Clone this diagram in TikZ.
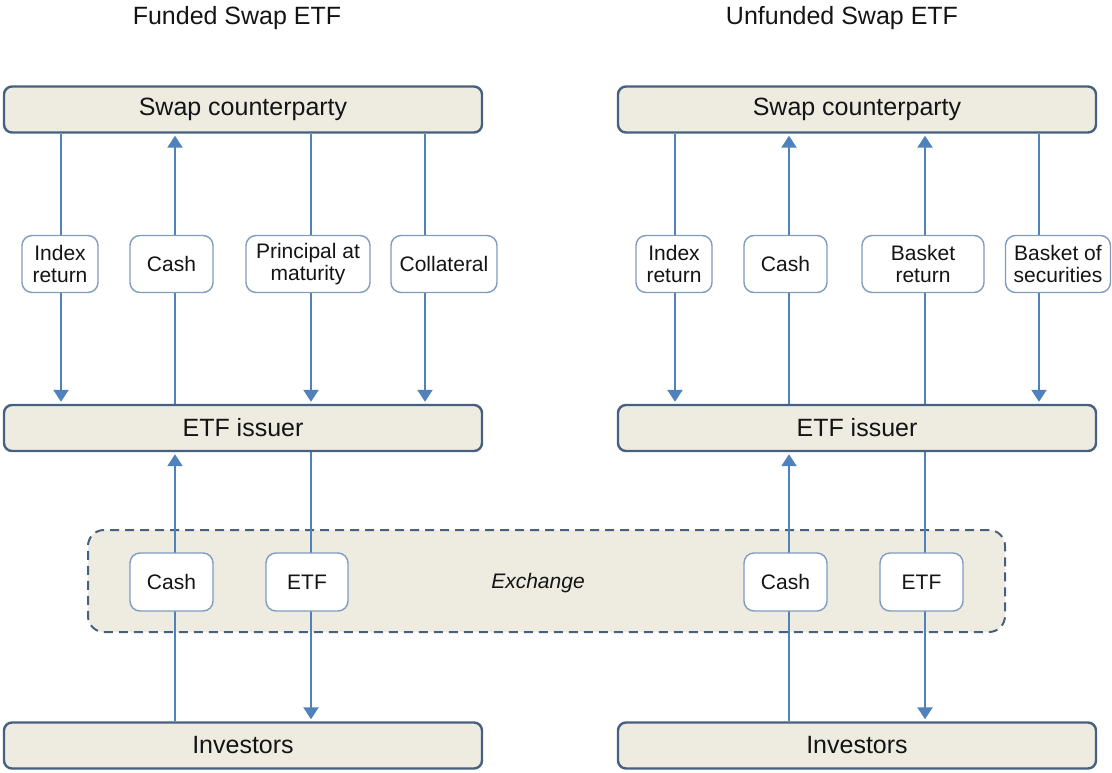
\documentclass[tikz,border=0pt]{standalone}
\usepackage{fontspec}
\setmainfont{Liberation Sans}
\usetikzlibrary{arrows.meta}
\definecolor{boxfill}{HTML}{EEECE1}
\definecolor{boxline}{HTML}{46607F}
\definecolor{arrowblue}{HTML}{4F81BD}
\definecolor{labline}{HTML}{7F9CBF}
\definecolor{txt}{HTML}{141414}
\tikzset{
  mainbox/.style={draw=boxline, line width=2.4pt, fill=boxfill, rounded corners=8pt,
    minimum width=478pt, minimum height=46pt, inner sep=0pt, text=txt,
    font=\fontsize{25}{29}\selectfont},
  labbox/.style={draw=labline, line width=1.4pt, fill=white, rounded corners=10pt,
    minimum height=57pt, inner sep=0pt, align=center, text=txt,
    font=\fontsize{21}{25}\selectfont},
  exbox/.style={draw=boxline, line width=2pt, dash pattern=on 9pt off 6pt, fill=boxfill,
    rounded corners=16pt, minimum width=917pt, minimum height=102pt, inner sep=0pt},
  flow/.style={draw=arrowblue, line width=2.2pt, -{Triangle[width=15pt,length=12pt]}, shorten >=2pt},
  title/.style={text=txt, font=\fontsize{25}{29}\selectfont}
}
\begin{document}
\begin{tikzpicture}[x=1pt,y=-1pt]
\useasboundingbox (0,0) rectangle (1112,772);
% titles
\node[title] (t1) at (237,18) {Funded Swap ETF};
\node[title] (t2) at (842,18) {Unfunded Swap ETF};
% exchange
\node[exbox] (ex) at (546.5,581) {};
\node[text=txt, font=\fontsize{21}{25}\selectfont\itshape] (exl) at (538,583) {Exchange};
% main boxes
\node[mainbox] (scL) at (243,109.5) {Swap counterparty};
\node[mainbox] (isL) at (243,428) {ETF issuer};
\node[mainbox] (inL) at (243,745.5) {Investors};
\node[mainbox] (scR) at (857,109.5) {Swap counterparty};
\node[mainbox] (isR) at (857,428) {ETF issuer};
\node[mainbox] (inR) at (857,745.5) {Investors};
% arrow columns
\coordinate (xL1) at (61,0);
\coordinate (xL2) at (175,0);
\coordinate (xL3) at (311,0);
\coordinate (xL4) at (425,0);
\coordinate (xR1) at (675,0);
\coordinate (xR2) at (789,0);
\coordinate (xR3) at (925,0);
\coordinate (xR4) at (1039,0);
% funded upper flows
\draw[flow] (xL1 |- scL.south) -- (xL1 |- isL.north);
\draw[flow] (xL2 |- isL.north) -- (xL2 |- scL.south);
\draw[flow] (xL3 |- scL.south) -- (xL3 |- isL.north);
\draw[flow] (xL4 |- scL.south) -- (xL4 |- isL.north);
% unfunded upper flows
\draw[flow] (xR1 |- scR.south) -- (xR1 |- isR.north);
\draw[flow] (xR2 |- isR.north) -- (xR2 |- scR.south);
\draw[flow] (xR3 |- isR.north) -- (xR3 |- scR.south);
\draw[flow] (xR4 |- scR.south) -- (xR4 |- isR.north);
% lower flows
\draw[flow] (xL2 |- inL.north) -- (xL2 |- isL.south);
\draw[flow] (xL3 |- isL.south) -- (xL3 |- inL.north);
\draw[flow] (xR2 |- inR.north) -- (xR2 |- isR.south);
\draw[flow] (xR3 |- isR.south) -- (xR3 |- inR.north);
% upper labels
\node[labbox, minimum width=76pt] (l1) at (60,264) {Index\\[-3pt]return};
\node[labbox, minimum width=83pt] (l2) at (171.5,264) {Cash};
\node[labbox, minimum width=124pt] (l3) at (308,264) {Principal at\\[-3pt]maturity};
\node[labbox, minimum width=106pt] (l4) at (444,264) {Collateral};
\node[labbox, minimum width=76pt] (r1) at (674,264) {Index\\[-3pt]return};
\node[labbox, minimum width=83pt] (r2) at (785.5,264) {Cash};
\node[labbox, minimum width=122pt] (r3) at (923,264) {Basket\\[-3pt]return};
\node[labbox, minimum width=105pt] (r4) at (1058,264) {Basket of\\[-3pt]securities};
% lower labels
\node[labbox, minimum width=83pt, minimum height=58pt] (l5) at (171.5,582) {Cash};
\node[labbox, minimum width=82pt, minimum height=58pt] (l6) at (307,582) {ETF};
\node[labbox, minimum width=83pt, minimum height=58pt] (r5) at (785.5,582) {Cash};
\node[labbox, minimum width=83pt, minimum height=58pt] (r6) at (921.5,582) {ETF};
\end{tikzpicture}
\end{document}
